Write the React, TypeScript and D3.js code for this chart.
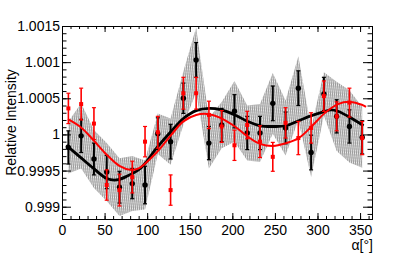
import React, { useEffect, useRef } from "react";
import * as d3 from "d3";

// chart size and frame
const width = 415;
const height = 260;
const frame = { left: 62, top: 26, right: 372, bottom: 219 };

// bin centres in degrees
const angles = [7.5, 22.5, 37.5, 52.5, 67.5, 82.5, 97.5, 112.5, 127.5, 142.5, 157.5, 172.5,
  187.5, 202.5, 217.5, 232.5, 247.5, 262.5, 277.5, 292.5, 307.5, 322.5, 337.5, 352.5];

// black series
const blackVals = [0.99982, 0.99998, 0.99966, 0.99948, 0.99927, 0.99932, 0.9993, 1.00001, 0.9999, 1.0005, 1.00103, 0.99988,
  1.00013, 1.00032, 1.00002, 1.00002, 1.00043, 1.00009, 1.00064, 0.99975, 1.00056, 1.00025, 1.00011, 0.99996];
const blackErr = [0.00023, 0.00023, 0.00022, 0.00023, 0.00022, 0.00021, 0.00026, 0.00022, 0.00024, 0.00021, 0.00024, 0.00023,
  0.00023, 0.00023, 0.00023, 0.00023, 0.00024, 0.00022, 0.00024, 0.00024, 0.00023, 0.00023, 0.00023, 0.00023];
// hatched band around the black series
const bandErr = [0.00036, 0.00045, 0.0004, 0.0004, 0.0004, 0.00038, 0.00034, 0.00028, 0.00032, 0.00037, 0.00045, 0.00035,
  0.00032, 0.00042, 0.00038, 0.0004, 0.00042, 0.00038, 0.00044, 0.00034, 0.0003, 0.00048, 0.0005, 0.00042];

// red series
const redVals = [1.00036, 1.00042, 1.00015, 0.9993, 0.99923, 0.99941, 0.9999, 1.00003, 0.99923, 1.00057, 1.00057, 1.00027,
  1.00011, 0.99985, 1.00013, 0.9999, 0.99969, 1.00016, 0.99995, 1.00009, 1.00053, 1.00025, 1.00044, 0.99995];
const redErr = [0.00021, 0.00022, 0.00022, 0.00021, 0.00022, 0.00022, 0.00021, 0.00022, 0.00021, 0.00022, 0.00022, 0.00019,
  0.00022, 0.00021, 0.00019, 0.00022, 0.0002, 0.00021, 0.00023, 0.00021, 0.00021, 0.0002, 0.0002, 0.00023];

// fit curves
const blackFitX = [5, 21, 37, 52.5, 64, 76, 93, 111, 128, 142.5, 157.5, 173, 187, 203, 218, 232.5, 248, 263, 278, 293, 309, 316, 324, 339, 354];
const blackFitY = [0.99985, 0.99969, 0.99953, 0.99939, 0.99937, 0.99942, 0.99954, 0.99981, 1.00004, 1.00022, 1.00033, 1.00036,
  1.00034, 1.00027, 1.00018, 1.00012, 1.00011, 1.00012, 1.00019, 1.00026, 1.00032, 1.00034, 1.00032, 1.00023, 1.00012];
const redFitX = [7, 23, 37, 52.5, 68, 80, 90, 111, 128, 142.5, 157.5, 173, 186, 203, 218, 232.5, 248, 263, 278, 293, 309, 324, 339, 352, 357];
const redFitY = [1.00021, 1.00009, 0.99992, 0.99972, 0.99956, 0.99951, 0.99953, 0.99975, 0.99999, 1.00018, 1.00027, 1.00028,
  1.00023, 1.00011, 0.99997, 0.99987, 0.99984, 0.99988, 0.99995, 1.00011, 1.0003, 1.00042, 1.00045, 1.00041, 1.00038];

// axis ticks
const xTicks = [0, 50, 100, 150, 200, 250, 300, 350];
const yTicks = [0.999, 0.9995, 1, 1.0005, 1.001, 1.0015];
const yTickLabels = ["0.999", "0.9995", "1", "1.0005", "1.001", "1.0015"];

const font = "'Liberation Sans', Arial, Helvetica, sans-serif";

export default function App() {
  const svgRef = useRef<SVGSVGElement>(null);

  useEffect(() => {
    const svg = d3.select(svgRef.current);
    svg.selectAll("*").remove();

    const x = d3.scaleLinear().domain([0, 364]).range([frame.left, frame.right]);
    const y = d3.scaleLinear().domain([0.99883, 1.0015]).range([frame.bottom, frame.top]);

    const defs = svg.append("defs");
    const pat = defs.append("pattern")
      .attr("id", "hatch")
      .attr("patternUnits", "userSpaceOnUse")
      .attr("width", 2)
      .attr("height", 3)
      .attr("patternTransform", "rotate(6)");
    pat.append("rect").attr("width", 2).attr("height", 3).attr("fill", "#d6d6d6");
    pat.append("line").attr("x1", 0.5).attr("x2", 0.5).attr("y1", 0).attr("y2", 3)
      .attr("stroke", "#8c8c8c").attr("stroke-width", 0.8);
    pat.append("rect").attr("x", 1.2).attr("y", 1).attr("width", 0.8).attr("height", 1).attr("fill", "#f4f4f4");
    defs.append("clipPath").attr("id", "frameClip")
      .append("rect")
      .attr("x", frame.left).attr("y", frame.top)
      .attr("width", frame.right - frame.left).attr("height", frame.bottom - frame.top);

    svg.append("rect").attr("width", width).attr("height", height).attr("fill", "white");

    const plot = svg.append("g").attr("clip-path", "url(#frameClip)");

    // band
    const area = d3.area<number>()
      .x((d, i) => x(angles[i]))
      .y0((d, i) => y(blackVals[i] - bandErr[i]))
      .y1((d, i) => y(blackVals[i] + bandErr[i]));
    plot.append("path").datum(angles).attr("d", area).attr("fill", "url(#hatch)");

    // black fit
    const line = d3.line<number>().curve(d3.curveCatmullRom);
    plot.append("path")
      .attr("d", line(blackFitX.map((a, i) => [x(a), y(blackFitY[i])])))
      .attr("fill", "none").attr("stroke", "black").attr("stroke-width", 2.8);

    const drawPoints = (vals: number[], errs: number[], color: string, lw: number, square: boolean) => {
      const g = plot.append("g");
      angles.forEach((a, i) => {
        const cx = x(a);
        const lo = y(vals[i] - errs[i]);
        const hi = y(vals[i] + errs[i]);
        g.append("line").attr("x1", cx).attr("x2", cx).attr("y1", lo).attr("y2", hi)
          .attr("stroke", color).attr("stroke-width", lw);
        [lo, hi].forEach(yy => g.append("line")
          .attr("x1", cx - 2).attr("x2", cx + 2).attr("y1", yy).attr("y2", yy)
          .attr("stroke", color).attr("stroke-width", 1.2));
        if (square) {
          g.append("rect").attr("x", cx - 2).attr("y", y(vals[i]) - 2).attr("width", 4).attr("height", 4).attr("fill", color);
        } else {
          g.append("circle").attr("cx", cx).attr("cy", y(vals[i])).attr("r", 2.7).attr("fill", color);
        }
      });
    };
    drawPoints(blackVals, blackErr, "black", 2, false);
    drawPoints(redVals, redErr, "#ff0000", 1.6, true);

    // red fit
    plot.append("path")
      .attr("d", line(redFitX.map((a, i) => [x(a), y(redFitY[i])])))
      .attr("fill", "none").attr("stroke", "#ff0000").attr("stroke-width", 2);

    // axes
    const xMinor = d3.range(0, 361, 10);
    const yMinor = d3.range(0.9989, 1.00151, 0.0001);
    const styleAxis = (g: d3.Selection<SVGGElement, unknown, null, undefined>) => {
      g.select(".domain").remove();
      g.selectAll("line").attr("stroke", "black").attr("stroke-width", 1);
      g.selectAll("text").attr("font-family", font).attr("font-size", 14).attr("fill", "black");
    };
    const addAxis = (axis: d3.Axis<d3.NumberValue>, tr: string) => {
      svg.append("g").attr("transform", tr).attr("font-family", font).call(axis).call(styleAxis);
    };

    addAxis(d3.axisBottom(x).tickValues(xMinor).tickSize(-3).tickFormat(() => ""), `translate(0,${frame.bottom})`);
    addAxis(d3.axisBottom(x).tickValues(xTicks).tickSize(-6).tickPadding(6).tickFormat(d => String(d)), `translate(0,${frame.bottom})`);
    addAxis(d3.axisTop(x).tickValues(xMinor).tickSize(-3).tickFormat(() => ""), `translate(0,${frame.top})`);
    addAxis(d3.axisTop(x).tickValues(xTicks).tickSize(-6).tickFormat(() => ""), `translate(0,${frame.top})`);
    addAxis(d3.axisLeft(y).tickValues(yMinor).tickSize(-4.5).tickFormat(() => ""), `translate(${frame.left},0)`);
    addAxis(d3.axisLeft(y).tickValues(yTicks).tickSize(-9).tickPadding(2)
      .tickFormat((d, i) => yTickLabels[i]), `translate(${frame.left},0)`);
    addAxis(d3.axisRight(y).tickValues(yMinor).tickSize(-4.5).tickFormat(() => ""), `translate(${frame.right},0)`);
    addAxis(d3.axisRight(y).tickValues(yTicks).tickSize(-9).tickFormat(() => ""), `translate(${frame.right},0)`);

    svg.append("rect")
      .attr("x", frame.left + 0.5).attr("y", frame.top + 0.5)
      .attr("width", frame.right - frame.left).attr("height", frame.bottom - frame.top)
      .attr("fill", "none").attr("stroke", "black").attr("stroke-width", 1);

    // titles
    svg.append("text")
      .attr("x", frame.right + 1).attr("y", 250)
      .attr("text-anchor", "end")
      .attr("font-family", font).attr("font-size", 14)
      .text("α[°]");
    svg.append("text")
      .attr("transform", "rotate(-90)")
      .attr("x", -122.5).attr("y", 16)
      .attr("text-anchor", "middle")
      .attr("font-family", font).attr("font-size", 14)
      .text("Relative Intensity");
  }, []);

  return (
    <svg ref={svgRef} width={width} height={height}
      style={{ position: "absolute", left: 0, top: 0, display: "block" }} />
  );
}
